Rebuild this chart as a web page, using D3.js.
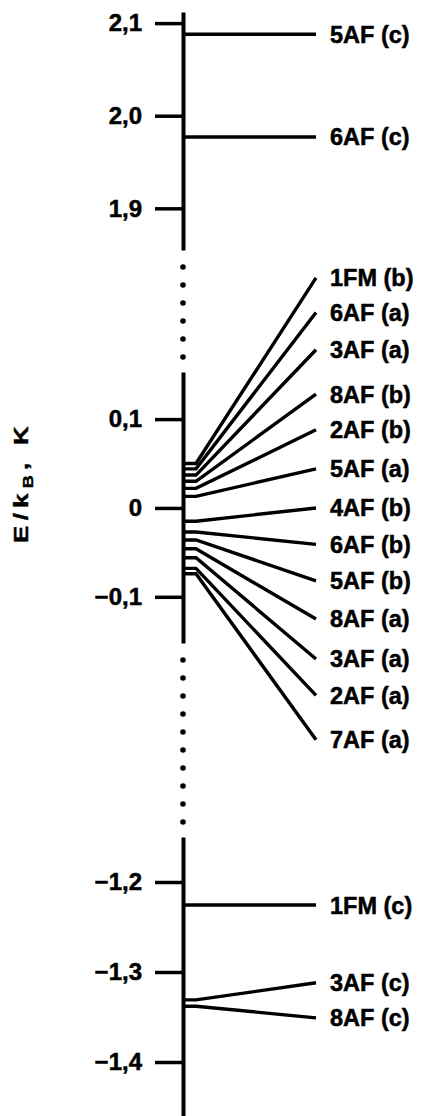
<!DOCTYPE html>
<html>
<head>
<meta charset="utf-8">
<script src="https://cdn.jsdelivr.net/npm/d3@7"></script>
<style>
  body { margin: 0; background: #fff; }
  svg { display: block; font-family: "Liberation Sans", Arial, sans-serif; font-weight: bold; }
  .axis path, .axis line { stroke: #000; }
  .axis text { font-size: 24px; font-weight: bold; fill: #000; stroke: #000; stroke-width: 0.5px;
               font-family: "Liberation Sans", Arial, sans-serif; }
</style>
</head>
<body>
<svg id="levels" width="422" height="1116"></svg>
<script>
// energy levels E/kB in K, and where each label sits on the same energy scale
const levelNames = [
  "5AF (c)", "6AF (c)",
  "1FM (b)", "6AF (a)", "3AF (a)", "8AF (b)", "2AF (b)", "5AF (a)",
  "4AF (b)", "6AF (b)", "5AF (b)", "8AF (a)", "3AF (a)", "2AF (a)", "7AF (a)",
  "1FM (c)", "3AF (c)", "8AF (c)"
];
const levelEnergies = [
  2.088, 1.977,
  0.050, 0.044, 0.037, 0.030, 0.022, 0.013,
  -0.015, -0.027, -0.036, -0.046, -0.056, -0.068, -0.074,
  -1.2256, -1.331, -1.338
];
const labelEnergies = [
  2.088, 1.977,
  0.259, 0.220, 0.178, 0.128, 0.088, 0.044,
  0.000, -0.041, -0.082, -0.125, -0.170, -0.211, -0.261,
  -1.2256, -1.312, -1.351
];

// the three pieces of the broken axis
const segmentDomains = [[1.855, 2.112], [-0.152, 0.153], [-1.46, -1.15]];
const segmentTicks = [[1.9, 2.0, 2.1], [-0.1, 0, 0.1], [-1.4, -1.3, -1.2]];

class LevelView {
  constructor(id) {
    this.svg = d3.select("#" + id);
    this.axisX = 183;
    this.stubX = 196;
    this.endX = 316;
    this.labelX = 330;
    // pixel ranges of the three axis pieces
    this.ranges = [[250, 12], [643, 372], [1116, 837]];
    this.scales = segmentDomains.map(function(d, i) {
      return d3.scaleLinear().domain(d).range(this.ranges[i]);
    }, this);
    const loc = d3.formatLocale({decimal: ",", thousands: " ", grouping: [3], currency: ["", ""], minus: "\u2212"});
    const f = loc.format(".1f");
    this.fmt = function(d) { return d === 0 ? "0" : f(d); };
  }

  segmentOf(e) {
    for (let i = 0; i < segmentDomains.length; i++) {
      const d = segmentDomains[i];
      if (e >= d[0] - 0.2 && e <= d[1] + 0.2) return i;
    }
    return 0;
  }

  draw() {
    const g = this.svg.append("g");

    this.scales.forEach(function(s, i) {
      const ax = g.append("g")
          .attr("class", "axis")
          .attr("transform", "translate(" + this.axisX + ",0)")
          .call(d3.axisLeft(s).tickValues(segmentTicks[i]).tickSize(28).tickSizeOuter(0)
            .tickPadding(13).tickFormat(this.fmt));
      ax.select(".domain").attr("stroke-width", 4);
      ax.selectAll(".tick line").attr("stroke-width", 3.5);
    }, this);

    // dotted breaks between the axis pieces
    const dots = [];
    for (let i = 0; i < this.ranges.length - 1; i++) {
      const from = this.ranges[i][0] + 17, to = this.ranges[i + 1][1] - 12;
      for (let y = from; y <= to; y += 18) dots.push(y);
    }
    g.selectAll(".brk")
      .data(dots)
      .enter().append("circle")
        .attr("class", "brk")
        .attr("cx", this.axisX)
        .attr("cy", function(d) { return d; })
        .attr("r", 2.8)
        .attr("fill", "#000");

    const data = levelNames.map(function(n, i) {
      return {name: n, e: levelEnergies[i], le: labelEnergies[i]};
    });

    const lvl = g.selectAll(".level")
      .data(data)
      .enter().append("g")
        .attr("class", "level");

    lvl.append("path")
        .attr("fill", "none")
        .attr("stroke", "#000")
        .attr("stroke-width", 3.4)
        .attr("d", function(d) {
          const s = this.scales[this.segmentOf(d.e)];
          return "M" + this.axisX + "," + s(d.e) + "L" + this.stubX + "," + s(d.e) +
                 "L" + this.endX + "," + s(d.le);
        }.bind(this));

    lvl.append("text")
        .attr("x", this.labelX)
        .attr("y", function(d) { return this.scales[this.segmentOf(d.e)](d.le); }.bind(this))
        .attr("dy", "0.36em")
        .style("font-size", "23.5px")
        .style("font-weight", "bold")
        .style("stroke", "#000")
        .style("stroke-width", "0.5px")
        .text(function(d) { return d.name; });

    // y axis title
    const t = g.append("text")
        .attr("transform", "translate(28,482) rotate(-90) scale(1.3,1)")
        .attr("text-anchor", "middle")
        .style("font-size", "20px")
        .style("letter-spacing", "4px")
        .style("stroke", "#000")
        .style("stroke-width", "0.4px");
    t.append("tspan").text("E/k");
    t.append("tspan").attr("dy", "0.35em").style("font-size", "14px").text("B");
    t.append("tspan").attr("dy", "-0.27em").text(", K");
  }
}

const view = new LevelView("levels");
view.draw();
</script>
</body>
</html>
